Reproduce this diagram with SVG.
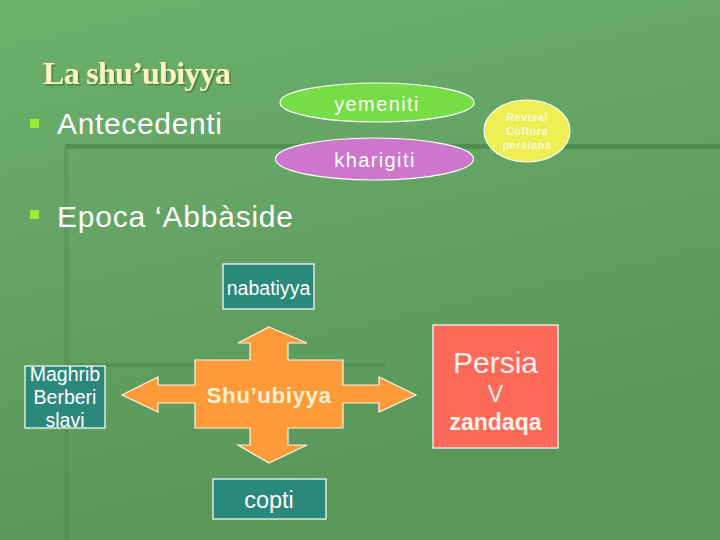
<svg xmlns="http://www.w3.org/2000/svg" width="720" height="540" viewBox="0 0 720 540">
<defs>
<linearGradient id="bg" x1="0" y1="0" x2="0.3" y2="1">
<stop offset="0" stop-color="#6cb06c"/>
<stop offset="1" stop-color="#5a955a"/>
</linearGradient>
<clipPath id="clipMag"><rect x="25" y="366" width="80" height="62"/></clipPath>
<filter id="sh" x="-10%" y="-10%" width="130%" height="140%">
<feDropShadow dx="1.5" dy="1.5" stdDeviation="0.6" flood-color="#3d6e3d" flood-opacity="0.8"/>
</filter>
</defs>
<style>
text{font-family:"Liberation Sans",Arial,sans-serif;fill:#ffffff}
.bullet{fill:#99ee33}
.head{font-size:30px}
.box{fill:#2a897a;stroke:#ffffff;stroke-width:1.2}
.bx{font-size:19.5px;text-anchor:middle}
.ell{stroke:#ffffff;stroke-width:1.2}
</style>
<rect width="720" height="540" fill="url(#bg)"/>
<g id="decor">
<rect x="64" y="144" width="5" height="396" fill="#4a854a" opacity="0.3"/>
<rect x="66" y="144" width="654" height="5" fill="#3f7a3f" opacity="0.55"/>
<rect x="67" y="363" width="318" height="4" fill="#3f7a3f" opacity="0.35"/>
</g>
<g id="title">
<text x="43" y="84" font-size="32" font-weight="bold" textLength="188" style="fill:#f9f4c0;font-family:'Liberation Serif','DejaVu Serif',serif" filter="url(#sh)">La shu’ubiyya</text>
</g>
<g id="bullet-antecedenti">
<rect class="bullet" x="30" y="119" width="9" height="9"/>
<text class="head" x="57" y="134" textLength="165">Antecedenti</text>
</g>
<g id="bullet-epoca">
<rect class="bullet" x="30" y="210" width="9" height="9"/>
<text class="head" x="57" y="227" textLength="236">Epoca ‘Abbàside</text>
</g>
<g id="yemeniti">
<ellipse class="ell" cx="377" cy="102.5" rx="97" ry="19.5" fill="#77dd44"/>
<text x="377" y="111" font-size="20" text-anchor="middle" letter-spacing="1.4">yemeniti</text>
</g>
<g id="kharigiti">
<ellipse class="ell" cx="374.5" cy="159" rx="99" ry="21" fill="#cc77cc"/>
<text x="375" y="167" font-size="20" text-anchor="middle" letter-spacing="1.4">kharigiti</text>
</g>
<g id="revival">
<ellipse class="ell" cx="527" cy="131" rx="43" ry="31" fill="#eeee55"/>
<text x="527" y="121" font-size="11" font-weight="bold" text-anchor="middle" letter-spacing="0.5" style="fill:#fafad8">Revival</text>
<text x="527" y="135" font-size="11" font-weight="bold" text-anchor="middle" letter-spacing="0.5" style="fill:#fafad8">Cultura</text>
<text x="527" y="149" font-size="11" font-weight="bold" text-anchor="middle" letter-spacing="0.5" style="fill:#fafad8">persiana</text>
</g>
<g id="nabatiyya">
<rect class="box" x="223" y="264" width="91" height="45"/>
<text class="bx" x="268.5" y="295">nabatiyya</text>
</g>
<g id="maghrib">
<rect class="box" x="25" y="366" width="80" height="62"/>
<g clip-path="url(#clipMag)">
<text class="bx" x="65" y="381" font-size="19">Maghrib</text>
<text class="bx" x="65" y="404" font-size="19">Berberi</text>
<text class="bx" x="65" y="427" font-size="19">slavi</text>
</g>
</g>
<g id="copti">
<rect class="box" x="213" y="479" width="113" height="40"/>
<text x="269" y="508" font-size="23.5" text-anchor="middle">copti</text>
</g>
<g id="persia">
<rect x="433" y="325" width="125" height="123" fill="#fd6a5a" stroke="#ffffff" stroke-width="1.2"/>
<text x="495.5" y="373" font-size="30" text-anchor="middle" style="fill:#fbf3ea">Persia</text>
<text x="495.5" y="402" font-size="23" text-anchor="middle" style="fill:#fbf3ea">V</text>
<text x="495.5" y="430" font-size="23" font-weight="bold" text-anchor="middle" style="fill:#fbf3ea">zandaqa</text>
</g>
<g id="connectors">
<g id="shuubiyya">
<path d="M269,327 L307,343 L288,343 L288,360 L343,360 L343,385 L379,385 L379,377 L416,395 L379,412 L379,403 L343,403 L343,428 L288,428 L288,445 L307,445 L269,463 L238,445 L250,445 L250,428 L195,428 L195,403 L158,403 L158,412 L122,395 L158,377 L158,385 L195,385 L195,360 L250,360 L250,343 L238,343 Z" fill="#ff9a3a" stroke="#fff3e0" stroke-width="1.2" stroke-linejoin="miter"/>
<text x="269" y="403" font-size="22.5" font-weight="bold" text-anchor="middle" letter-spacing="0.5" style="fill:#fdf0d0">Shu’ubiyya</text>
</g>
</g>
</svg>
